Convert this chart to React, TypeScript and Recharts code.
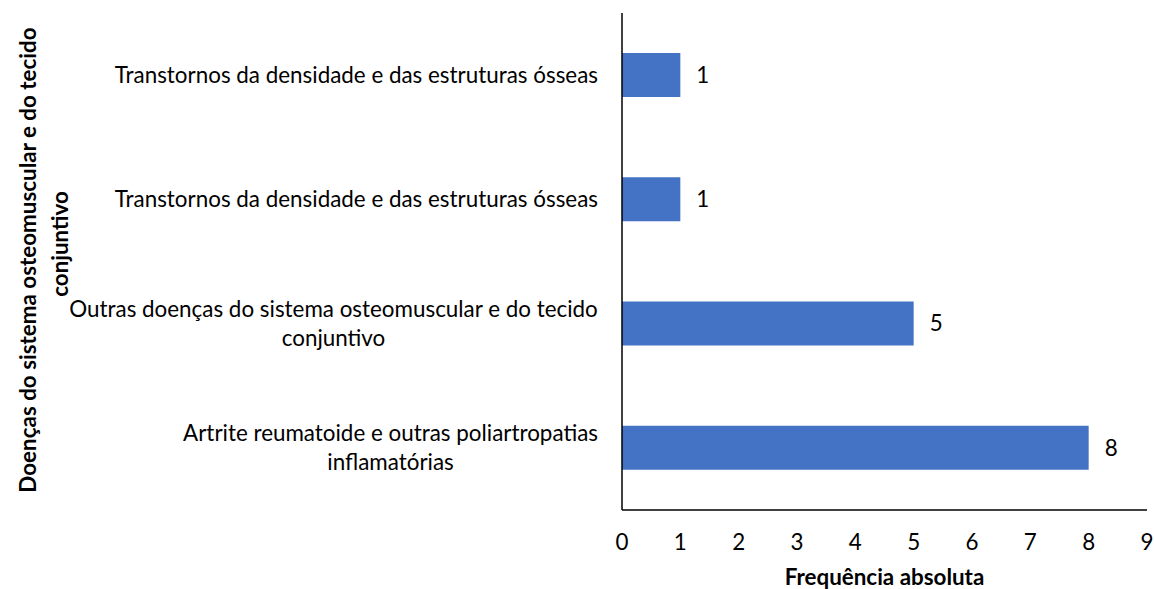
import { BarChart, Bar, XAxis, YAxis, LabelList } from "recharts";

const categories = [
  "Transtornos da densidade e das estruturas ósseas",
  "Transtornos da densidade e das estruturas ósseas",
  "Outras doenças do sistema osteomuscular e do tecido\nconjuntivo",
  "Artrite reumatoide e outras poliartropatias\ninflamatórias",
];
const frequencies = [1, 1, 5, 8];
const xTicks = [0, 1, 2, 3, 4, 5, 6, 7, 8, 9];

const yTitle = ["Doenças do sistema osteomuscular e do tecido", "conjuntivo"];
const xTitle = "Frequência absoluta";

const data = categories.map((name, i) => ({ id: `c${i}`, name, value: frequencies[i] }));

const FONT = "Lato, 'Open Sans', sans-serif";
const FS = 22.4;
const FS_TITLE = 22.4;

let ctx: CanvasRenderingContext2D | null = null;
function measure(s: string) {
  if (!ctx) ctx = document.createElement("canvas").getContext("2d");
  if (!ctx) return s.length * 11;
  ctx.font = `${FS}px Lato`;
  return ctx.measureText(s).width;
}

// category labels: block right-aligned, lines centred inside it (like Excel)
function CatTick(props: any) {
  const { x, y, payload } = props;
  const label = categories[payload.index] ?? "";
  const lines = label.split("\n");
  const w = Math.max(...lines.map(measure));
  const cx = x - 16 - w / 2;
  const lh = 29;
  const y0 = y - ((lines.length - 1) * lh) / 2;
  return (
    <text x={cx} y={y0} textAnchor="middle" fontSize={FS} fontFamily={FONT} fill="#000">
      {lines.map((l: string, i: number) => (
        <tspan key={i} x={cx} y={y0 + i * lh} dy="0.35em">
          {l}
        </tspan>
      ))}
    </text>
  );
}

export default function App() {
  return (
    <div style={{ position: "absolute", left: 0, top: 0, background: "#fff" }}>
      <BarChart
        width={1154}
        height={589}
        data={data}
        layout="vertical"
        margin={{ top: 13, right: 7, bottom: 0, left: 0 }}
        barSize={44}
      >
        <XAxis
          type="number"
          domain={[0, 9]}
          ticks={xTicks}
          tickLine={false}
          axisLine={{ stroke: "#000", strokeWidth: 1.5 }}
          tick={{ fill: "#000", fontSize: FS, fontFamily: FONT }}
          tickMargin={18}
          height={79}
          label={(p: any) => {
            const vb = p.viewBox;
            return (
              <text
                x={vb.x + vb.width / 2}
                y={585}
                textAnchor="middle"
                fontSize={FS_TITLE}
                fontWeight="bold"
                fontFamily={FONT}
                fill="#000"
              >
                {xTitle}
              </text>
            );
          }}
        />
        <YAxis
          type="category"
          dataKey="id"
          width={622}
          tickLine={false}
          axisLine={{ stroke: "#000", strokeWidth: 1.5 }}
          tick={<CatTick />}
          interval={0}
          label={() => (
            <g fontSize={FS_TITLE} fontWeight="bold" fontFamily={FONT} fill="#000">
              <text x={28} y={260} textAnchor="middle" dy="0.35em" transform="rotate(-90 28 260)">
                {yTitle[0]}
              </text>
              <text x={60} y={244} textAnchor="middle" dy="0.35em" transform="rotate(-90 60 244)">
                {yTitle[1]}
              </text>
            </g>
          )}
        />
        <Bar dataKey="value" fill="#4472C4" isAnimationActive={false}>
          <LabelList
            dataKey="value"
            position="right"
            offset={16}
            fill="#000"
            fontSize={FS}
            fontFamily={FONT}
          />
        </Bar>
      </BarChart>
    </div>
  );
}
